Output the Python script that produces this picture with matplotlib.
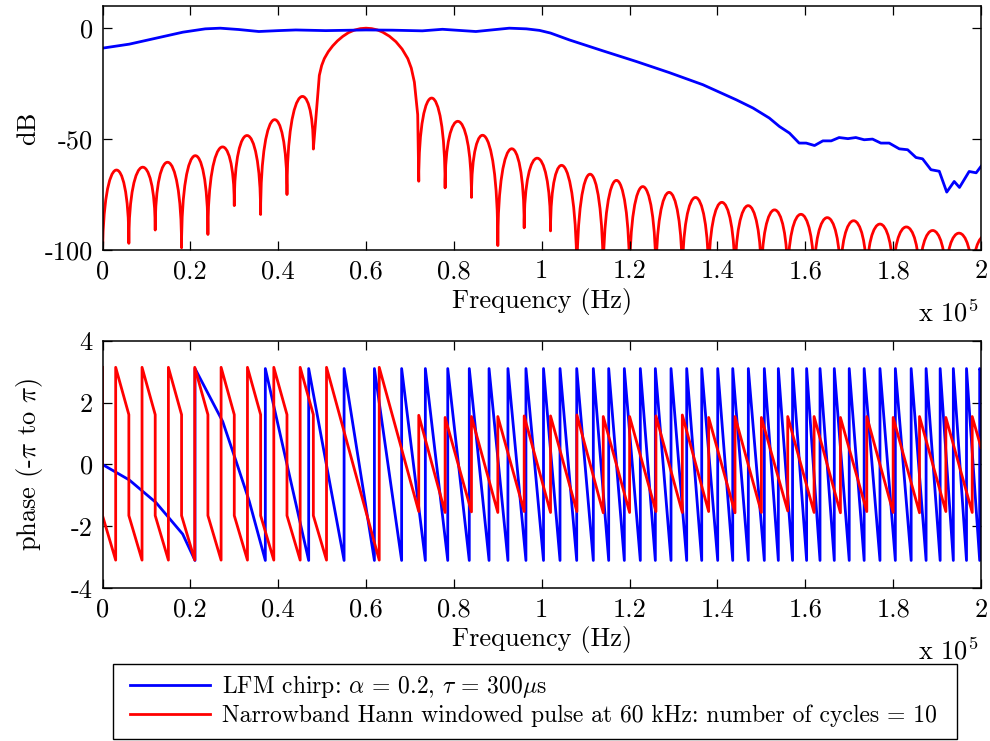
import matplotlib
matplotlib.use("Agg")
import matplotlib.pyplot as plt
from matplotlib.path import Path
from matplotlib.patches import PathPatch, Rectangle
from matplotlib.lines import Line2D

plt.rcParams['font.family'] = ['cmr10', 'DejaVu Serif']
plt.rcParams['mathtext.fontset'] = 'cm'
plt.rcParams['axes.unicode_minus'] = False
plt.rcParams['axes.formatter.use_mathtext'] = True

# frequencies are in units of 1e5 Hz

# --- top panel: LFM chirp spectrum (dB)
lfm_f = [0, 0.061, 0.122, 0.183, 0.234, 0.268, 0.31, 0.356, 0.40, 0.44, 0.508,
         0.60, 0.66, 0.728, 0.774, 0.85, 0.926, 0.965, 0.995, 1.02, 1.063, 1.139,
         1.215, 1.29, 1.367, 1.443, 1.481, 1.518, 1.541, 1.564, 1.586, 1.602,
         1.621, 1.640, 1.659, 1.677, 1.697, 1.715, 1.734, 1.753, 1.772, 1.791,
         1.814, 1.833, 1.852, 1.867, 1.886, 1.905, 1.922, 1.939, 1.951, 1.973,
         1.989, 2.0]
lfm_db = [-9.0, -7.2, -4.5, -1.8, -0.3, 0.0, -0.6, -1.5, -1.1, -0.8, -1.1,
          -0.8, -0.9, -1.2, -0.5, -1.5, 0.0, -0.3, -1.0, -2.2, -5.3, -10.2,
          -15.0, -20.0, -25.5, -32.3, -36.0, -40.5, -44.3, -47.3, -51.8, -51.8,
          -52.9, -50.8, -50.8, -49.3, -49.8, -49.3, -50.3, -50.0, -51.8, -51.8,
          -54.4, -54.8, -58.3, -58.9, -63.8, -64.5, -73.9, -69.1, -71.8, -64.6,
          -65.2, -62.3]

# --- top panel: Hann pulse spectrum, sidelobe nulls / peaks (dB)
hann_null_f_lo = [0, 0.06, 0.12, 0.18, 0.24, 0.30, 0.36, 0.42, 0.48]
hann_null_db_lo = [-105, -97, -91, -99, -93, -80, -84, -75, -54.5]
hann_peak_db_lo = [-64, -62.7, -60.5, -57.5, -53.7, -48.4, -41.3, -31.2]

main_f = [0.490, 0.4936, 0.499, 0.505, 0.514, 0.524, 0.535, 0.547, 0.560,
          0.573, 0.587, 0.60, 0.613, 0.626, 0.638, 0.653, 0.668, 0.682,
          0.695, 0.703, 0.710, 0.7176, 0.72]
main_db = [-30.3, -21.3, -16.8, -13.7, -10.6, -8.0, -5.7, -3.7, -2.0,
           -0.9, -0.2, 0.0, -0.2, -0.8, -1.8, -3.6, -6.1, -9.4,
           -13.7, -18.0, -24.3, -39.0, -69.0]

hann_null_f_hi = [0.72, 0.78, 0.84, 0.90, 0.96, 1.02, 1.08, 1.14, 1.20, 1.26,
                  1.32, 1.38, 1.44, 1.50, 1.56, 1.62, 1.68, 1.74, 1.80, 1.86,
                  1.92, 1.98, 2.04]
hann_null_db_hi = [-69, -72, -76.3, -98, -90, -91.4, -115, -115, -115, -115,
                   -115, -115, -115, -115, -115, -115, -115, -115, -115, -115,
                   -115, -115, -115]
hann_peak_db_hi = [-31.5, -42, -48.7, -54.4, -58.6, -62.3, -65.8, -68.6, -71.4,
                   -74, -76.3, -78.5, -80, -81.9, -83.9, -85.4, -86.8, -88.3,
                   -89.6, -91.2, -92.4, -93.5]

# --- bottom panel: LFM phase, wrap frequencies (phase jumps -pi -> +pi)
lfm_first_f = [0, 0.061, 0.1218, 0.1826]
lfm_first_ph = [0, -0.5, -1.23, -2.25]
lfm_wrap_f = [0.2106, 0.3707, 0.4694, 0.550, 0.619, 0.681, 0.735, 0.786, 0.835,
              0.880, 0.923, 0.964, 1.004, 1.0416, 1.0796, 1.1174, 1.1524, 1.188,
              1.2244, 1.2586, 1.2943, 1.33, 1.3642, 1.4006, 1.4348, 1.4703,
              1.5067, 1.5386, 1.571, 1.603, 1.6335, 1.666, 1.700, 1.734, 1.770,
              1.805, 1.841, 1.875, 1.907, 1.937, 1.967, 1.997]
lfm_tooth2_f = [0.2736, 0.304, 0.334]
lfm_tooth2_ph = [1.39, 0.11, -1.18]
lfm_end_ph = 3.0

# --- bottom panel: Hann pulse phase, jumps (frequency, value before, value after)
hann_jump_f = [0, 0.03, 0.06, 0.09, 0.12, 0.15, 0.18, 0.21, 0.24, 0.27, 0.30,
               0.33, 0.36, 0.39, 0.42, 0.45, 0.48, 0.51, 0.63, 0.72, 0.78, 0.84,
               0.90, 0.96, 1.02, 1.08, 1.14, 1.20, 1.26, 1.32, 1.38, 1.44, 1.50,
               1.56, 1.62, 1.68, 1.74, 1.80, 1.86, 1.92, 1.98]
hann_jump_from = [3.14, -3.09, 1.61, -3.09, 1.61, -3.09, 1.61, -3.09, 1.61,
                  -3.09, 1.61, -3.09, 1.61, -3.09, 1.61, -3.09, 1.61, -3.09,
                  -3.09, -1.52, -1.55, -1.53, -1.55, -1.52, -1.55, -1.52, -1.56,
                  -1.55, -1.52, -1.55, -1.52, -1.56, -1.55, -1.50, -1.55, -1.56,
                  -1.52, -1.55, -1.56, -1.52, -1.55]
hann_jump_to = [-1.65, 3.14, -1.65, 3.14, -1.65, 3.14, -1.65, 3.14, -1.65,
                3.14, -1.65, 3.14, -1.65, 3.14, -1.65, 3.14, -1.65, 3.14,
                3.14, 1.59, 1.52, 1.55, 1.55, 1.57, 1.57, 1.60, 1.55, 1.55,
                1.57, 1.60, 1.52, 1.55, 1.52, 1.55, 1.55, 1.52, 1.55, 1.52,
                1.55, 1.52, 1.55]
hann_end = (2.0, 0.55)

xticks = [0, 0.2, 0.4, 0.6, 0.8, 1.0, 1.2, 1.4, 1.6, 1.8, 2.0]
xticklabels = ['0', '0.2', '0.4', '0.6', '0.8', '1', '1.2', '1.4', '1.6', '1.8', '2']

BLUE = '#0000ff'
RED = '#ff0000'
LW = 2.0
FS = 19
LEG_FS = 17
W, H = 990.0, 741.0


def lobe_path(verts, codes, f, null_db, peak_db):
    # each sidelobe drawn as a cubic curve null -> null, rising to its peak
    for i in range(len(peak_db)):
        a, b = f[i], f[i + 1]
        na, nb = null_db[i], null_db[i + 1]
        c = 4.0 / 3.0 * (peak_db[i] - (na + nb) / 8.0)
        verts += [(a, c), (b, c), (b, nb)]
        codes += [Path.CURVE4] * 3


def style_axes(ax, xlab_y):
    ax.set_xlim(0, 2)
    ax.set_xticks(xticks)
    ax.set_xticklabels(xticklabels)
    ax.tick_params(direction='in', top=True, right=True, length=6.5, width=0.9,
                   labelsize=FS, pad=7)
    for s in ax.spines.values():
        s.set_linewidth(1.1)
    ax.set_xlabel('Frequency (Hz)', fontsize=FS)
    ax.xaxis.set_label_coords(0.5, xlab_y)


fig = plt.figure(figsize=(9.9, 7.41), dpi=100)
ax1 = fig.add_axes([102.5 / W, 1 - 250 / H, 878.5 / W, 244 / H])
ax2 = fig.add_axes([102.5 / W, 1 - 588.3 / H, 878.5 / W, 247.6 / H])

# top
ax1.plot(lfm_f, lfm_db, color=BLUE, lw=LW)
verts = [(hann_null_f_lo[0], hann_null_db_lo[0])]
codes = [Path.MOVETO]
lobe_path(verts, codes, hann_null_f_lo, hann_null_db_lo, hann_peak_db_lo)
for f, d in zip(main_f, main_db):
    verts.append((f, d))
    codes.append(Path.LINETO)
lobe_path(verts, codes, hann_null_f_hi, hann_null_db_hi, hann_peak_db_hi)
ax1.add_patch(PathPatch(Path(verts, codes), fill=False, edgecolor=RED, lw=LW,
                        capstyle='butt', joinstyle='round'))
ax1.set_ylim(-100, 10)
ax1.set_yticks([-100, -50, 0])
ax1.set_yticklabels(['-100', '-50', '0'])
style_axes(ax1, -0.155)
ax1.set_ylabel('dB', fontsize=FS)
ax1.yaxis.set_label_coords(-0.071, 0.5)

# bottom
px = list(lfm_first_f)
py = list(lfm_first_ph)
for i, f in enumerate(lfm_wrap_f):
    px += [f, f]
    py += [-3.1, 3.1]
    if i == 0:
        px += lfm_tooth2_f
        py += lfm_tooth2_ph
px.append(2.0)
py.append(lfm_end_ph)
ax2.plot(px, py, color=BLUE, lw=LW)

rx, ry = [], []
for f, v0, v1 in zip(hann_jump_f, hann_jump_from, hann_jump_to):
    rx += [f, f]
    ry += [v0, v1]
rx.append(hann_end[0])
ry.append(hann_end[1])
ax2.plot(rx, ry, color=RED, lw=LW)
ax2.set_ylim(-4, 4)
ax2.set_yticks([-4, -2, 0, 2, 4])
ax2.set_yticklabels(['-4', '-2', '0', '2', '4'])
style_axes(ax2, -0.152)
ax2.set_ylabel(r'phase (-$\pi$ to $\pi$)', fontsize=FS)
ax2.yaxis.set_label_coords(-0.066, 0.5)

fig.text(918 / W, 1 - 321 / H, r'x 10$^5$', fontsize=FS, va='baseline')
fig.text(918 / W, 1 - 659 / H, r'x 10$^5$', fontsize=FS, va='baseline')

# legend: frame drawn as a separate box, entries placed inside it
fig.add_artist(Rectangle((113 / W, 1 - 739 / H), 844 / W, 75 / H,
                         transform=fig.transFigure, fill=False,
                         edgecolor='black', lw=1.0))
handles = [Line2D([], [], color=BLUE, lw=LW), Line2D([], [], color=RED, lw=LW)]
labels = [r'LFM chirp: $\alpha$ = 0.2, $\tau$ = 300$\mu$s',
          'Narrowband Hann windowed pulse at 60 kHz: number of cycles = 10']
fig.legend(handles, labels, loc='upper left',
           bbox_to_anchor=(130 / W, 1 - 673 / H), frameon=False,
           fontsize=LEG_FS, handlelength=3.4, handletextpad=0.5,
           borderpad=0, borderaxespad=0, labelspacing=0.2)

plt.savefig('out.png', dpi=100)
